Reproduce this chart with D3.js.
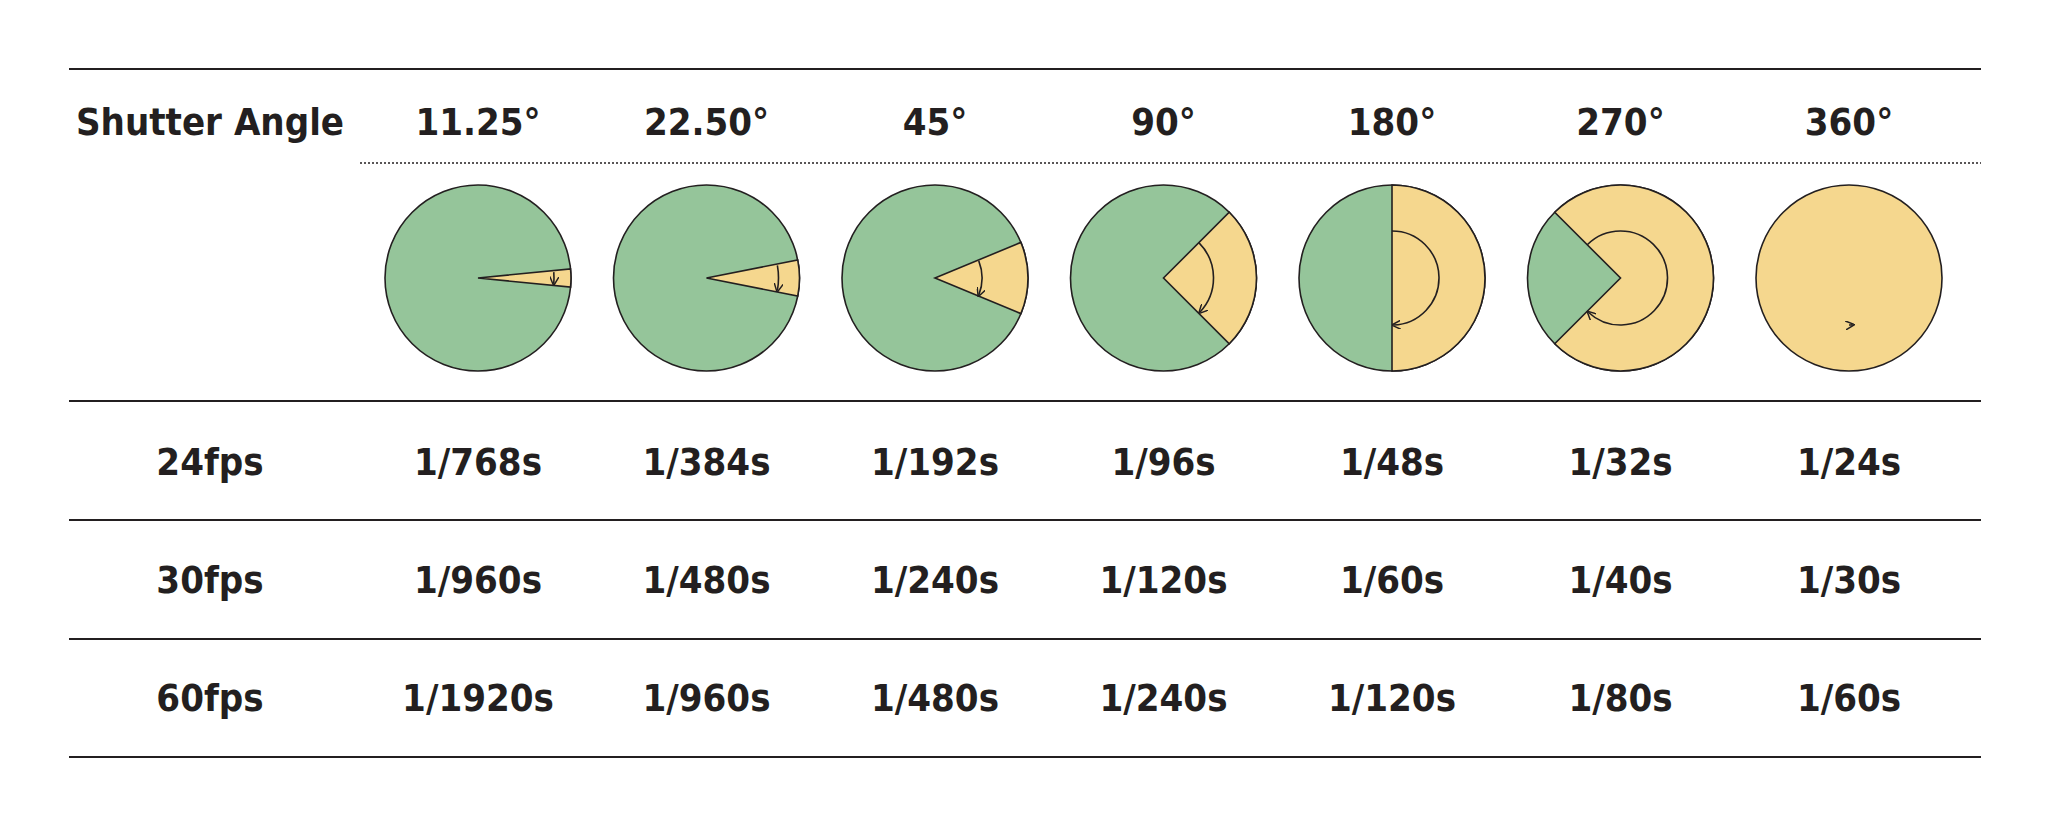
<!DOCTYPE html>
<html><head><meta charset="utf-8">
<script src="https://cdn.jsdelivr.net/npm/d3@7"></script>
<style>body{margin:0;background:#fff}text{font-family:"Liberation Sans Narrow","DejaVu Sans Condensed",sans-serif;fill:#231f20}</style>
</head><body><div id="chart"></div>
<script>
"use strict";

// data
const angles = [11.25, 22.5, 45, 90, 180, 270, 360];
const angleLabels = ["11.25°", "22.50°", "45°", "90°", "180°", "270°", "360°"];
const rowLabels = ["24fps", "30fps", "60fps"];
const speeds = [
    ["1/768s", "1/384s", "1/192s", "1/96s", "1/48s", "1/32s", "1/24s"],
    ["1/960s", "1/480s", "1/240s", "1/120s", "1/60s", "1/40s", "1/30s"],
    ["1/1920s", "1/960s", "1/480s", "1/240s", "1/120s", "1/80s", "1/60s"]
];

const W = 2048, H = 831;
const ink = "#231f20", green = "#95c59a", yellow = "#f5d78e";

let svg = d3.select("#chart").append("svg").attr("width", W).attr("height", H);

svg.append("defs").append("marker")
    .attr("id", "arr").attr("viewBox", "0 0 10 10").attr("refX", 8).attr("refY", 5)
    .attr("markerWidth", 9).attr("markerHeight", 9).attr("markerUnits", "userSpaceOnUse")
    .attr("orient", "auto")
    .append("path").attr("d", "M0,0 L10,5 L0,10").attr("fill", "none").attr("stroke", ink).attr("stroke-width", 1.6);

let x = d3.scalePoint().domain(d3.range(angles.length)).range([478, 1849]);
let rowY = d3.scalePoint().domain(d3.range(rowLabels.length)).range([464, 700]);

// horizontal rules
[69, 401, 520, 639, 757].forEach(function (y) {
    svg.append("line").attr("x1", 69).attr("x2", 1981).attr("y1", y).attr("y2", y)
        .attr("stroke", ink).attr("stroke-width", 2);
});
svg.append("line").attr("x1", 360).attr("x2", 1981).attr("y1", 163).attr("y2", 163)
    .attr("stroke", ink).attr("stroke-width", 1.5).attr("stroke-dasharray", "2,2");

const fs = 38;
svg.append("text").attr("x", 210).attr("y", 124).attr("text-anchor", "middle")
    .attr("dominant-baseline", "middle").attr("font-size", fs).attr("font-weight", "bold").text("Shutter Angle");

svg.selectAll(".hdr").data(angleLabels).enter().append("text")
    .attr("x", function (d, i) { return x(i); }).attr("y", 124)
    .attr("text-anchor", "middle").attr("dominant-baseline", "middle")
    .attr("font-size", fs).attr("font-weight", "bold").text(function (d) { return d; });

// pies
const R = 93, cy = 278;
const arcR = [76, 72, 47, 50, 47, 47, 47];
let arc = d3.arc().innerRadius(0).outerRadius(R);

angles.forEach(function (a, i) {
    let g = svg.append("g").attr("transform", "translate(" + x(i) + "," + cy + ")");
    let t = a / 360 * 2 * Math.PI;
    g.append("circle").attr("r", R).attr("fill", a < 360 ? green : yellow).attr("stroke", ink).attr("stroke-width", 1.6);
    if (a < 360) {
        // d3.arc: 0 at top, so the right side is pi/2
        g.append("path").attr("d", arc({startAngle: Math.PI / 2 - t / 2, endAngle: Math.PI / 2 + t / 2}))
            .attr("fill", yellow).attr("stroke", ink).attr("stroke-width", 1.6).attr("stroke-linejoin", "miter");
    }
    let p = d3.path();
    let r = arcR[i];
    if (a < 360) {
        let a0 = -t / 2 + (a < 90 ? 0.02 : 0), a1 = t / 2 - (a < 90 ? 0.02 : 0.03);
        p.moveTo(r * Math.cos(a0), r * Math.sin(a0));
        p.arc(0, 0, r, a0, a1, false);
    } else {
        p.moveTo(0, r);
        p.arc(0, 0, r, Math.PI / 2 - 0.02, Math.PI / 2 + 2 * Math.PI - 0.08, true);
    }
    g.append("path").attr("d", p.toString()).attr("fill", "none").attr("stroke", ink)
        .attr("stroke-width", 1.6).attr("marker-end", "url(#arr)");
});

// table rows
rowLabels.forEach(function (lab, r) {
    svg.append("text").attr("x", 210).attr("y", rowY(r)).attr("text-anchor", "middle")
        .attr("dominant-baseline", "middle").attr("font-size", fs).attr("font-weight", "bold").text(lab);
    svg.selectAll(".row" + r).data(speeds[r]).enter().append("text")
        .attr("x", function (d, i) { return x(i); }).attr("y", rowY(r))
        .attr("text-anchor", "middle").attr("dominant-baseline", "middle")
        .attr("font-size", fs).attr("font-weight", "bold").text(function (d) { return d; });
});
</script></body></html>
